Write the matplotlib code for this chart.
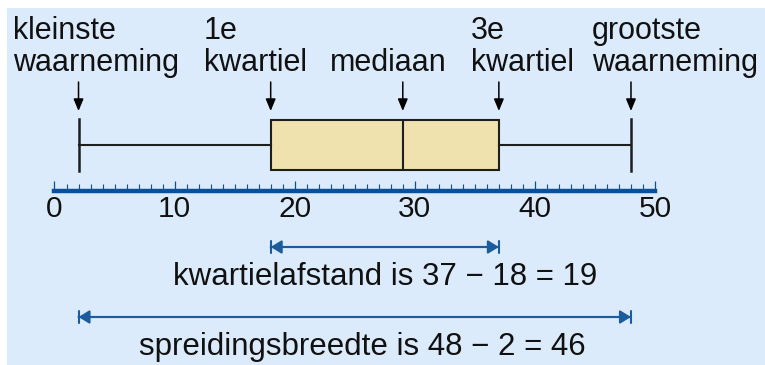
import matplotlib
matplotlib.use('Agg')
import matplotlib.pyplot as plt
from matplotlib.patches import Rectangle

plt.rcParams['font.family'] = ['Liberation Sans', 'DejaVu Sans']

# ── data: five-number summary ────────────────────────────────────────────────
kleinste = 2
q1 = 18
mediaan = 29
q3 = 37
grootste = 48
five_numbers = [kleinste, q1, mediaan, q3, grootste]

label_top = ['kleinste', '1e', '', '3e', 'grootste']
label_bottom = ['waarneming', 'kwartiel', 'mediaan', 'kwartiel', 'waarneming']
label_left = [-3.45, 12.45, 22.95, 34.7, 44.75]   # left edge of each label (axis units)

axis_ticks = list(range(0, 51, 10))
axis_minor = list(range(0, 51, 1))

# ── colours ─────────────────────────────────────────────────────────────────
BG = '#DCEBFB'
AXIS_BLUE = '#0B4F99'
RANGE_BLUE = '#1B5C9C'
BOX_FILL = '#F0E2AE'
INK = '#111111'

W, H = 765, 365
fig = plt.figure(figsize=(W / 100, H / 100), dpi=100)
fig.patch.set_facecolor('white')
fig.patches.append(Rectangle((7 / W, 0), 1, 1 - 8 / H, transform=fig.transFigure,
                             facecolor=BG, edgecolor='none', zorder=-10))

ax = fig.add_axes([0, 0, 1, 1])
ax.set_facecolor('none')
px0, scale = 54.5, 12.01            # pixel of value 0, pixels per unit
ax.set_xlim(-px0 / scale, (W - px0) / scale)
ax.set_ylim(H, 0)                   # vertical layout in pixel rows

# boxplot
stats = [dict(whislo=kleinste, q1=q1, med=mediaan, q3=q3, whishi=grootste, fliers=[])]
ax.bxp(stats, positions=[145], widths=50, capwidths=52, orientation='horizontal',
       patch_artist=True, manage_ticks=False,
       boxprops=dict(facecolor=BOX_FILL, edgecolor='#1E1E1E', linewidth=1.5),
       medianprops=dict(color='#1E1E1E', linewidth=1.5),
       whiskerprops=dict(color='#1E1E1E', linewidth=1.5),
       capprops=dict(color='#1E1E1E', linewidth=1.8))

# pointer arrows + labels
for v in five_numbers:
    ax.annotate('', xy=(v, 111), xytext=(v, 82),
                arrowprops=dict(arrowstyle='-|>,head_length=0.6,head_width=0.25',
                                color='black', lw=1.1, shrinkA=0, shrinkB=0,
                                mutation_scale=12))
for x, top, bottom in zip(label_left, label_top, label_bottom):
    ax.text(x, 39, top, ha='left', va='baseline', fontsize=22, color=INK)
    ax.text(x, 71, bottom, ha='left', va='baseline', fontsize=22, color=INK)

# number line
for side in ['top', 'left', 'right']:
    ax.spines[side].set_visible(False)
ax.spines['bottom'].set_position(('data', 190.5))
ax.spines['bottom'].set_bounds(axis_ticks[0], axis_ticks[-1])
ax.spines['bottom'].set_color(AXIS_BLUE)
ax.spines['bottom'].set_linewidth(3.2)
ax.set_xticks(axis_ticks)
ax.set_xticks(axis_minor, minor=True)
ax.tick_params(axis='x', which='major', direction='in', length=7, width=0.9,
               color=AXIS_BLUE, labelsize=21.5, labelcolor=INK, pad=3.5)
ax.tick_params(axis='x', which='minor', direction='in', length=5.2, width=0.8,
               color=AXIS_BLUE)
ax.yaxis.set_visible(False)


def range_arrow(x0, x1, y):
    # filled heads plus end bars
    ax.annotate('', xy=(x1, y), xytext=(x0, y),
                arrowprops=dict(arrowstyle='<|-|>,head_length=0.65,head_width=0.4',
                                color=RANGE_BLUE, lw=1.5, shrinkA=0, shrinkB=0,
                                mutation_scale=10))
    ax.annotate('', xy=(x1, y), xytext=(x0, y),
                arrowprops=dict(arrowstyle='|-|,widthA=0.45,widthB=0.45',
                                color=RANGE_BLUE, lw=1.5, shrinkA=0, shrinkB=0,
                                mutation_scale=10))


range_arrow(q1, q3, 247)
ax.text((q1 + q3) / 2, 285, f'kwartielafstand is {q3} \u2212 {q1} = {q3 - q1}',
        ha='center', va='baseline', fontsize=22.5, color=INK)

range_arrow(kleinste, grootste, 317)
ax.text((kleinste + grootste) / 2 + 0.6, 355,
        f'spreidingsbreedte is {grootste} \u2212 {kleinste} = {grootste - kleinste}',
        ha='center', va='baseline', fontsize=22.5, color=INK)

fig.savefig('out.png', dpi=100, facecolor=fig.get_facecolor())
